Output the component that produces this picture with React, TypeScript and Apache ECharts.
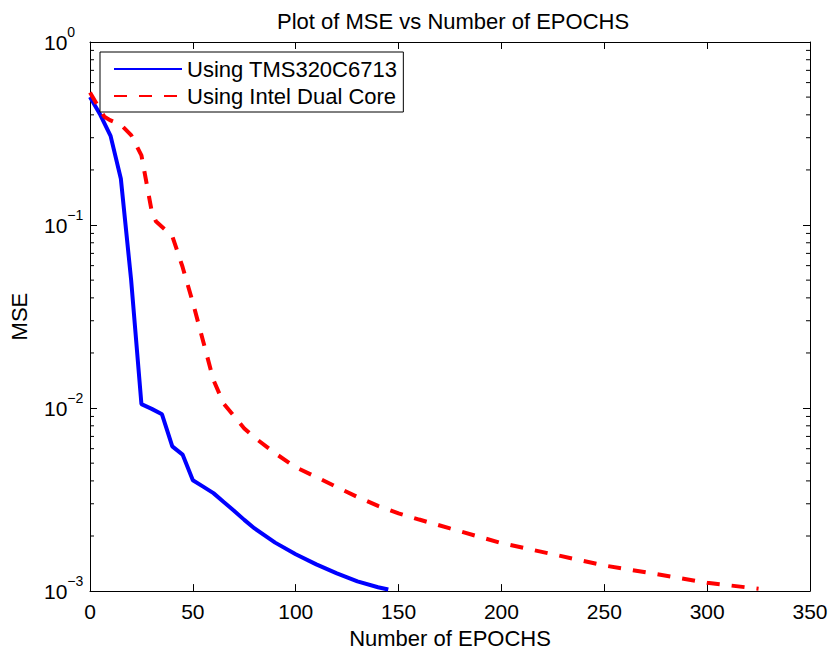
import React, { useEffect, useRef } from "react";
import * as echarts from "echarts";

const FONT = "'Liberation Sans', Arial, Helvetica, sans-serif";

const tmsEpochs = [0, 5, 10, 15, 20, 25, 30, 35, 40, 45, 50, 55, 60, 65, 70, 75, 80, 90, 100, 110, 120, 130, 140, 145];
const tmsMse = [0.5, 0.4, 0.307, 0.179, 0.05, 0.0105, 0.0099, 0.00924, 0.00618, 0.00557, 0.00403, 0.00372, 0.00343, 0.00307, 0.00275, 0.00245, 0.0022, 0.00184, 0.00159, 0.0014, 0.00125, 0.00113, 0.00105, 0.00102];

const intelEpochs = [0, 7, 10, 15, 20, 25, 30, 32, 40, 45, 50, 55, 60, 65, 70, 75, 80, 90, 100, 110, 120, 130, 140, 150, 160, 175, 200, 225, 250, 275, 300, 325];
const intelMse = [0.53, 0.39, 0.373, 0.353, 0.31, 0.24, 0.119, 0.105, 0.087, 0.059, 0.0377, 0.0232, 0.01425, 0.01056, 0.00904, 0.00774, 0.0069, 0.00566, 0.00475, 0.0042, 0.0037, 0.00327, 0.00292, 0.00266, 0.00246, 0.0022, 0.00183, 0.00159, 0.00138, 0.00124, 0.00111, 0.00103];

const minorTickValues = [
  0.002, 0.003, 0.004, 0.005, 0.006, 0.007, 0.008, 0.009,
  0.02, 0.03, 0.04, 0.05, 0.06, 0.07, 0.08, 0.09,
  0.2, 0.3, 0.4, 0.5, 0.6, 0.7, 0.8, 0.9,
];

const xMin = 0;
const xMax = 350;
const xInterval = 50;
const yMin = 0.001;
const yMax = 1;

const seriesNames = ["Using TMS320C6713", "Using Intel Dual Core"];

function supLabel(value: number): string {
  const exp = Math.round(Math.log10(value));
  const sup = exp < 0 ? "\u2212" + String(-exp) : String(exp);
  return `{b|10}{e|${sup}}`;
}

export default function App() {
  const ref = useRef<HTMLDivElement>(null);
  useEffect(() => {
    if (!ref.current) return;
    const chart = echarts.init(ref.current, undefined, { renderer: "svg" });
    const black = "#000";
    const option: any = {
      animation: false,
      backgroundColor: "#fff",
      textStyle: { fontFamily: FONT },
      title: {
        text: "Plot of MSE vs Number of EPOCHS",
        left: 272,
        top: 5,
        textStyle: { fontFamily: FONT, fontSize: 22, fontWeight: "normal", color: black },
      },
      legend: {
        data: seriesNames,
        orient: "vertical",
        left: 100,
        top: 52,
        padding: [6, 6, 5, 13],
        itemGap: 5,
        itemWidth: 68,
        itemHeight: 14,
        itemStyle: { opacity: 0 },
        backgroundColor: "#fff",
        borderColor: black,
        borderWidth: 1,
        borderRadius: 0,
        textStyle: { fontFamily: FONT, fontSize: 22, color: black },
      },
      grid: { left: 88, right: 22, top: 42, bottom: 58, containLabel: false },
      xAxis: [
        {
          type: "value",
          min: xMin,
          max: xMax,
          interval: xInterval,
          name: "Number of EPOCHS",
          nameLocation: "middle",
          nameGap: 34,
          nameTextStyle: { fontFamily: FONT, fontSize: 22, color: black },
          axisLine: { show: true, onZero: false, lineStyle: { color: black, width: 1 } },
          axisTick: { show: true, inside: true, length: 7, lineStyle: { color: black } },
          axisLabel: { fontFamily: FONT, fontSize: 21, color: black, margin: 10 },
          splitLine: { show: false },
        },
        {
          type: "value",
          position: "top",
          min: xMin,
          max: xMax,
          interval: xInterval,
          axisLine: { show: true, onZero: false, lineStyle: { color: black, width: 1 } },
          axisTick: { show: true, inside: true, length: 7, lineStyle: { color: black } },
          axisLabel: { show: false },
          splitLine: { show: false },
        },
      ],
      yAxis: [
        {
          type: "log",
          logBase: 10,
          min: yMin,
          max: yMax,
          name: "MSE",
          nameLocation: "middle",
          nameGap: 60,
          nameTextStyle: { fontFamily: FONT, fontSize: 22, color: black },
          axisLine: { show: true, onZero: false, lineStyle: { color: black, width: 1 } },
          axisTick: { show: true, inside: true, length: 7, lineStyle: { color: black } },
          axisLabel: {
            margin: 46,
            align: "left",
            formatter: supLabel,
            rich: {
              b: { fontFamily: FONT, fontSize: 21, color: black, lineHeight: 34 },
              e: { fontFamily: FONT, fontSize: 14, color: black, lineHeight: 14, verticalAlign: "top" },
            },
          },
          splitLine: { show: false },
        },
        {
          type: "log",
          logBase: 10,
          min: yMin,
          max: yMax,
          position: "right",
          axisLine: { show: true, onZero: false, lineStyle: { color: black, width: 1 } },
          axisTick: { show: true, inside: true, length: 7, lineStyle: { color: black } },
          axisLabel: { show: false },
          splitLine: { show: false },
        },
      ],
      series: [
        {
          name: seriesNames[0],
          type: "line",
          data: tmsEpochs.map((x, i) => [x, tmsMse[i]]),
          symbol: "none",
          color: "#0000ff",
          lineStyle: { color: "#0000ff", width: 4 },
          z: 3,
        },
        {
          name: seriesNames[1],
          type: "line",
          data: intelEpochs.map((x, i) => [x, intelMse[i]]),
          symbol: "none",
          color: "#ff0000",
          lineStyle: { color: "#ff0000", width: 4, type: [13, 12], cap: "butt" },
          z: 3,
        },
        {
          type: "custom",
          silent: true,
          clip: false,
          data: minorTickValues.map((v) => [xMin, v]),
          renderItem: (params: any, api: any) => {
            const v = api.value(1);
            const l = api.coord([xMin, v]);
            const r = api.coord([xMax, v]);
            const style = { stroke: black, lineWidth: 1 };
            return {
              type: "group",
              children: [
                { type: "line", shape: { x1: l[0], y1: l[1], x2: l[0] + 4, y2: l[1] }, style },
                { type: "line", shape: { x1: r[0] - 4, y1: r[1], x2: r[0], y2: r[1] }, style },
              ],
            };
          },
          z: 2,
        },
      ],
    };
    chart.setOption(option);
    return () => chart.dispose();
  }, []);
  return <div ref={ref} style={{ width: 832, height: 654, position: "absolute", left: 0, top: 0 }} />;
}
